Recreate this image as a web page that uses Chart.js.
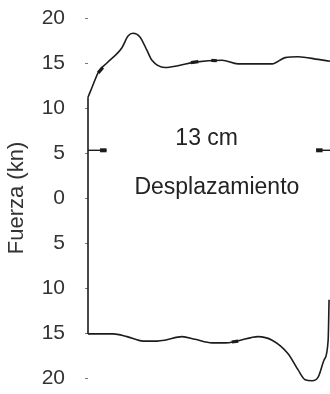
<!DOCTYPE html>
<html>
<head>
<meta charset="utf-8">
<script src="https://cdn.jsdelivr.net/npm/chart.js@4.4.1/dist/chart.umd.min.js"></script>
<style>
  html, body { margin: 0; padding: 0; background: #fff; }
  #wrap { width: 330px; height: 394px; }
</style>
</head>
<body>
<div id="wrap"><canvas id="myChart"></canvas></div>
<script>
const ctx = document.getElementById('myChart');

// desplazamiento (cm) y fuerza (kN), rama superior
const topX = [0, 0.22, 0.59, 1.02, 1.83, 2.16, 2.43, 2.80, 3.18, 3.45, 4.15, 4.85, 5.77, 7.23, 8.09, 9.93, 10.63, 11.33, 12.41, 13.05];
const topY = [11.2, 12.3, 14.1, 15.0, 16.7, 18.0, 18.3, 17.9, 16.4, 15.3, 14.5, 14.7, 15.1, 15.3, 14.9, 14.9, 15.6, 15.7, 15.4, 15.2];
// rama inferior
const botX = [0, 0.65, 1.35, 2.10, 2.97, 3.72, 4.15, 5.07, 5.77, 6.69, 7.39, 8.04, 9.17, 9.93, 10.79, 11.33, 11.71, 12.08, 12.41, 12.73, 12.95, 13.0];
const botY = [-15.1, -15.1, -15.1, -15.4, -15.9, -15.9, -15.8, -15.4, -15.7, -16.1, -16.1, -15.9, -15.4, -15.8, -17.3, -19.1, -20.2, -20.3, -19.9, -18.0, -15.8, -11.3];
// flechas de cota (13 cm) y flechas de sentido sobre la curva
const cotaIzqX = [0, 1.0];
const cotaDerX = [12.3, 13.05];
const cotaY = [5.3, 5.3];
const puntaIzqX = [0.65, 1.0];
const puntaDerX = [12.3, 12.65];
const flechasX = [[0.55, 0.8], [5.55, 5.95], [6.65, 6.95], [7.75, 8.1]];
const flechasY = [[13.9, 14.5], [15.05, 15.15], [15.3, 15.25], [-16.0, -15.9]];
const yTicks = [20, 15, 10, 5, 0, -5, -10, -15, -20];

const color = '#1c1c1c';
const pts = (xs, ys) => xs.map((x, i) => ({ x: x, y: ys[i] }));

const linea = (data, width, extra) => Object.assign({
  data: data,
  showLine: true,
  borderColor: color,
  borderWidth: width,
  pointRadius: 0,
  fill: false,
  clip: false,
}, extra || {});

const datasets = [
  linea(pts(topX, topY), 1.6, { cubicInterpolationMode: 'monotone' }),
  linea(pts(botX, botY), 1.6, { cubicInterpolationMode: 'monotone' }),
  linea([{ x: topX[0], y: topY[0] }, { x: botX[0], y: botY[0] }], 1.6),
  linea(pts(cotaIzqX, cotaY), 1.4),
  linea(pts(cotaDerX, cotaY), 1.4),
  linea(pts(puntaIzqX, cotaY), 4),
  linea(pts(puntaDerX, cotaY), 4),
];
flechasX.forEach((fx, i) => datasets.push(linea(pts(fx, flechasY[i]), 3.2)));

// textos dentro del area del grafico
const textos = {
  id: 'textos',
  afterDraw(chart) {
    const { ctx, scales: { x, y } } = chart;
    ctx.save();
    ctx.fillStyle = '#222';
    ctx.textAlign = 'center';
    ctx.textBaseline = 'middle';
    ctx.font = '23px "Liberation Sans", Arial, sans-serif';
    ctx.fillText('13 cm', x.getPixelForValue(6.4), y.getPixelForValue(6.6));
    ctx.fillText('Desplazamiento', x.getPixelForValue(6.95), y.getPixelForValue(1.2));
    ctx.restore();
  }
};

const myChart = new Chart(ctx, {
  type: 'scatter',
  data: { datasets: datasets },
  options: {
    responsive: true,
    maintainAspectRatio: false,
    animation: false,
    plugins: {
      legend: { display: false },
      tooltip: { enabled: false },
    },
    layout: {
      padding: { top: 18, bottom: 16, left: 0, right: 0 }
    },
    scales: {
      x: {
        type: 'linear',
        display: false,
        min: 0,
        max: 13.05,
      },
      y: {
        type: 'linear',
        min: -20,
        max: 20,
        afterBuildTicks: (scale) => {
          scale.ticks = yTicks.map(v => ({ value: v }));
        },
        afterFit: (scale) => {
          scale.width = 88;
          scale.paddingTop = 0;
          scale.paddingBottom = 0;
        },
        border: { display: false },
        grid: {
          drawOnChartArea: false,
          drawTicks: true,
          tickLength: 3,
          color: '#777',
        },
        ticks: {
          padding: 20,
          color: '#333',
          font: { family: '"Liberation Sans", Arial, sans-serif', size: 21 },
          callback: (v) => Math.abs(v),
        },
        title: {
          display: true,
          text: 'Fuerza (kn)',
          color: '#333',
          padding: { top: 4, bottom: 0 },
          font: { family: '"Liberation Sans", Arial, sans-serif', size: 22 },
        }
      }
    }
  },
  plugins: [textos],
});
</script>
</body>
</html>
